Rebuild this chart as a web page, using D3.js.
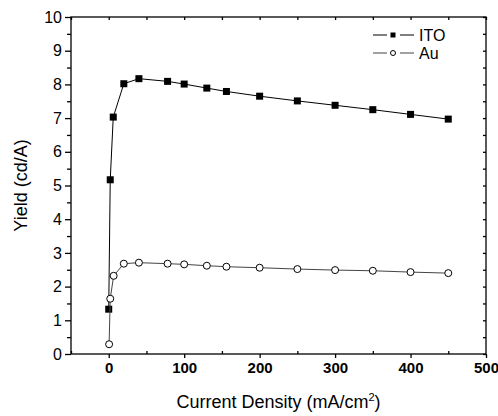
<!DOCTYPE html>
<html lang="en">
<head>
  <meta charset="UTF-8">
  <title>Yield vs Current Density</title>
  <script src="https://d3js.org/d3.v7.min.js"></script>
  <style>
    body {
      margin: 0;
      background-color: #ffffff;
      font-family: 'Liberation Sans', Arial, sans-serif;
    }
    svg { display: block; }
    .axis path, .axis line { stroke: #000; stroke-width: 1.3; }
    .tick-x text { font-size: 15px; font-weight: bold; }
    .tick-y text { font-size: 16px; }
    .title { font-size: 18px; }
    .legend text { font-size: 16px; }
  </style>
</head>
<body>
  <svg width="498" height="416"></svg>

  <script>
    // current density (mA/cm2)
    const itoX = [0, 2, 6, 20, 40, 78, 100, 130, 156, 200, 250, 300, 350, 400, 450];
    const itoY = [1.33, 5.17, 7.03, 8.02, 8.17, 8.09, 8.01, 7.89, 7.79, 7.65, 7.51, 7.38, 7.25, 7.11, 6.97];
    const auX = [0.5, 2, 6.5, 20, 40, 78, 100, 130, 156, 200, 250, 300, 350, 400, 450];
    const auY = [0.29, 1.64, 2.32, 2.68, 2.71, 2.68, 2.66, 2.62, 2.59, 2.56, 2.52, 2.49, 2.47, 2.43, 2.40];
    const xTicks = [0, 100, 200, 300, 400, 500];
    const yTicks = [0, 1, 2, 3, 4, 5, 6, 7, 8, 9, 10];

    const margin = { top: 17, right: 12, bottom: 62, left: 71 };
    const width = 498, height = 416;
    const svg = d3.select("svg");

    const x = d3.scaleLinear().domain([-50, 500]).range([margin.left, width - margin.right]);
    const y = d3.scaleLinear().domain([0, 10]).range([height - margin.bottom, margin.top]);

    const x0 = x.range()[0], x1 = x.range()[1];
    const y0 = y.range()[0], y1 = y.range()[1];

    // frame
    svg.append("rect")
      .attr("x", x0).attr("y", y1)
      .attr("width", x1 - x0).attr("height", y0 - y1)
      .attr("fill", "none").attr("stroke", "#000").attr("stroke-width", 1.3);

    const xMinor = d3.range(-50, 501, 50).filter(v => v % 100 !== 0);
    const yMinor = d3.range(0.5, 10, 1);

    // bottom axis
    svg.append("g").attr("class", "axis tick-x")
      .attr("transform", `translate(0,${y0})`)
      .call(d3.axisBottom(x).tickValues(xTicks).tickSize(4).tickPadding(4).tickFormat(d3.format("d")))
      .call(g => g.select(".domain").remove());
    svg.append("g").attr("class", "axis")
      .attr("transform", `translate(0,${y0})`)
      .call(d3.axisBottom(x).tickValues(xMinor).tickSize(-3).tickFormat(""))
      .call(g => g.select(".domain").remove());

    // top axis (mirror ticks)
    svg.append("g").attr("class", "axis")
      .attr("transform", `translate(0,${y1})`)
      .call(d3.axisTop(x).tickValues(xTicks.concat(xMinor)).tickSize(-3).tickFormat(""))
      .call(g => g.select(".domain").remove());

    // left axis
    svg.append("g").attr("class", "axis tick-y")
      .attr("transform", `translate(${x0},0)`)
      .call(d3.axisLeft(y).tickValues(yTicks).tickSize(6).tickPadding(3))
      .call(g => g.select(".domain").remove());
    svg.append("g").attr("class", "axis")
      .attr("transform", `translate(${x0},0)`)
      .call(d3.axisLeft(y).tickValues(yMinor).tickSize(4).tickFormat(""))
      .call(g => g.select(".domain").remove());

    // right axis (mirror ticks)
    svg.append("g").attr("class", "axis")
      .attr("transform", `translate(${x1},0)`)
      .call(d3.axisRight(y).tickValues(yTicks.concat(yMinor)).tickSize(-3).tickFormat(""))
      .call(g => g.select(".domain").remove());

    // axis titles
    const xt = svg.append("text").attr("class", "title")
      .attr("x", (x0 + x1) / 2).attr("y", 408)
      .attr("text-anchor", "middle");
    xt.append("tspan").text("Current Density (mA/cm");
    xt.append("tspan").attr("dy", -7).attr("font-size", 11).text("2");
    xt.append("tspan").attr("dy", 7).text(")");

    svg.append("text").attr("class", "title")
      .attr("transform", `translate(27,${(y0 + y1) / 2}) rotate(-90)`)
      .attr("text-anchor", "middle")
      .text("Yield (cd/A)");

    const series = [
      { name: "ITO", xs: itoX, ys: itoY, color: "#000", shape: "square" },
      { name: "Au", xs: auX, ys: auY, color: "#444", shape: "circle" }
    ];

    const line = d3.line().x(d => x(d[0])).y(d => y(d[1]));

    series.forEach(s => {
      const pts = s.xs.map((v, i) => [v, s.ys[i]]);
      svg.append("path")
        .attr("d", line(pts))
        .attr("fill", "none")
        .attr("stroke", s.color)
        .attr("stroke-width", 1);
      if (s.shape === "square") {
        svg.selectAll(null).data(pts).enter().append("rect")
          .attr("x", d => x(d[0]) - 3.5).attr("y", d => y(d[1]) - 3.5)
          .attr("width", 7).attr("height", 7)
          .attr("fill", "#000");
      } else {
        svg.selectAll(null).data(pts).enter().append("circle")
          .attr("cx", d => x(d[0])).attr("cy", d => y(d[1]))
          .attr("r", 3.5)
          .attr("fill", "#fff").attr("stroke", "#000").attr("stroke-width", 1);
      }
    });

    // legend
    const legend = svg.append("g").attr("class", "legend");
    series.forEach((s, i) => {
      const ly = 35 + i * 18;
      legend.append("line").attr("x1", 373).attr("x2", 387).attr("y1", ly).attr("y2", ly)
        .attr("stroke", s.color);
      legend.append("line").attr("x1", 400).attr("x2", 414).attr("y1", ly).attr("y2", ly)
        .attr("stroke", s.color);
      if (s.shape === "square") {
        legend.append("rect").attr("x", 390.5).attr("y", ly - 2.5).attr("width", 5).attr("height", 5)
          .attr("fill", "#000");
      } else {
        legend.append("circle").attr("cx", 393).attr("cy", ly).attr("r", 2.5)
          .attr("fill", "#fff").attr("stroke", "#000");
      }
      legend.append("text").attr("x", 419).attr("y", ly + 5.5).text(s.name);
    });
  </script>
</body>
</html>
